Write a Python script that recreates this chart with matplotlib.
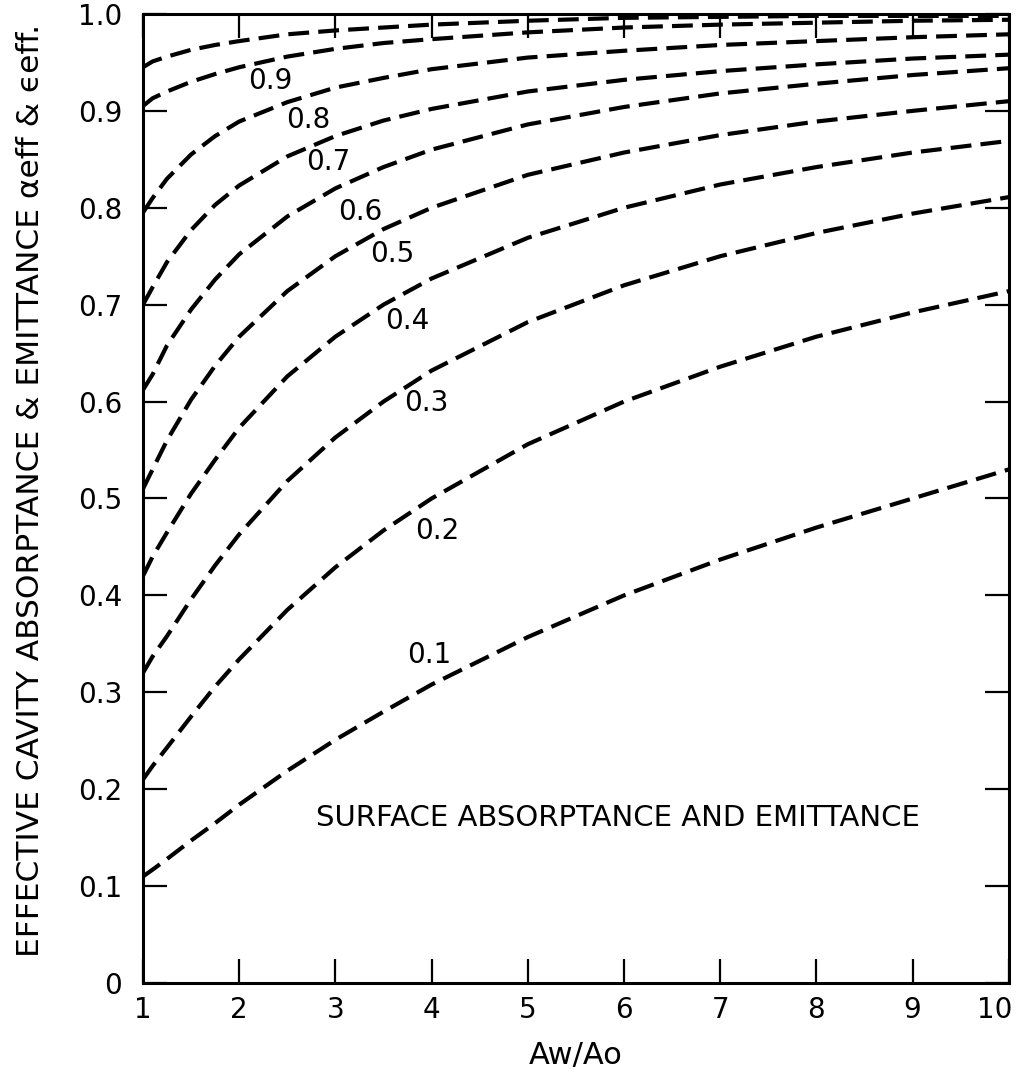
import numpy as np
import matplotlib
matplotlib.use('Agg')
import matplotlib.pyplot as plt
import matplotlib.transforms as mtransforms

plt.rcParams['font.family'] = 'DejaVu Sans'

# values (Aw/Ao on x, effective absorptance on y)
area_ratio = [1, 1.1, 1.25, 1.5, 1.75, 2, 2.5, 3, 3.5, 4, 5, 6, 7, 8, 9, 10]
a95 = [0.945, 0.951, 0.956, 0.963, 0.968, 0.972, 0.979, 0.983, 0.986, 0.989, 0.993, 0.996, 0.997, 0.998, 0.998, 0.998]
a90 = [0.905, 0.913, 0.920, 0.930, 0.938, 0.945, 0.956, 0.964, 0.970, 0.974, 0.981, 0.986, 0.989, 0.991, 0.993, 0.994]
a80 = [0.795, 0.810, 0.830, 0.855, 0.874, 0.889, 0.909, 0.924, 0.934, 0.943, 0.955, 0.962, 0.968, 0.972, 0.976, 0.979]
a70 = [0.700, 0.718, 0.744, 0.777, 0.803, 0.823, 0.853, 0.874, 0.890, 0.902, 0.920, 0.932, 0.941, 0.948, 0.954, 0.958]
a60 = [0.612, 0.628, 0.658, 0.695, 0.726, 0.752, 0.791, 0.820, 0.842, 0.860, 0.886, 0.904, 0.918, 0.928, 0.937, 0.944]
a50 = [0.510, 0.530, 0.560, 0.602, 0.637, 0.667, 0.714, 0.750, 0.778, 0.800, 0.834, 0.857, 0.875, 0.889, 0.900, 0.910]
a40 = [0.420, 0.440, 0.465, 0.505, 0.540, 0.573, 0.626, 0.667, 0.700, 0.727, 0.769, 0.800, 0.824, 0.842, 0.857, 0.869]
a30 = [0.320, 0.337, 0.358, 0.396, 0.431, 0.463, 0.518, 0.563, 0.600, 0.632, 0.682, 0.720, 0.750, 0.774, 0.794, 0.811]
a20 = [0.210, 0.224, 0.243, 0.275, 0.306, 0.334, 0.385, 0.429, 0.467, 0.500, 0.556, 0.600, 0.636, 0.667, 0.692, 0.714]
a10 = [0.110, 0.117, 0.128, 0.147, 0.165, 0.184, 0.219, 0.251, 0.280, 0.308, 0.357, 0.400, 0.437, 0.470, 0.500, 0.530]
curves = [a95, a90, a80, a70, a60, a50, a40, a30, a20, a10]

# curve labels and where they sit
curve_labels = ['0.9', '0.8', '0.7', '0.6', '0.5', '0.4', '0.3', '0.2', '0.1']
label_x = [2.32, 2.72, 2.93, 3.26, 3.59, 3.75, 3.95, 4.06, 3.98]
label_y = [0.931, 0.891, 0.847, 0.796, 0.752, 0.683, 0.599, 0.466, 0.339]

xticks = [1, 2, 3, 4, 5, 6, 7, 8, 9, 10]
yticks = [0, 0.1, 0.2, 0.3, 0.4, 0.5, 0.6, 0.7, 0.8, 0.9, 1.0]
ytick_labels = ['0', '0.1', '0.2', '0.3', '0.4', '0.5', '0.6', '0.7', '0.8', '0.9', '1.0']

fig = plt.figure(figsize=(10.19, 10.74), dpi=100)
ax = fig.add_axes([0.1403, 0.0847, 0.8497, 0.9023])

for c in curves:
    ax.plot(area_ratio, c, color='k', lw=3.0, dashes=(5, 2.2), solid_capstyle='butt')

for t, x, y in zip(curve_labels, label_x, label_y):
    ax.text(x, y, t, fontsize=20, ha='center', va='center')

ax.text(5.94, 0.170, 'SURFACE ABSORPTANCE AND EMITTANCE', fontsize=21,
        ha='center', va='center')

ax.set_xlim(1, 10)
ax.set_ylim(0, 1.0)
ax.set_xticks(xticks)
ax.set_xticklabels([str(v) for v in xticks])
ax.set_yticks(yticks)
ax.set_yticklabels(ytick_labels)

for sp in ax.spines.values():
    sp.set_linewidth(2.2)

ax.tick_params(which='both', bottom=True, top=True, left=True, right=True,
               direction='in', length=17, width=1.6, labelsize=20)
ax.tick_params(axis='y', pad=15)
ax.tick_params(axis='x', pad=9)

# last x label sits inside the figure edge as in the original
lab10 = ax.get_xticklabels()[-1]
lab10.set_horizontalalignment('right')
lab10.set_transform(lab10.get_transform() + mtransforms.ScaledTranslation(4 / 100, 0, fig.dpi_scale_trans))

ax.set_xlabel('Aw/Ao', fontsize=22)
ax.xaxis.set_label_coords(0.5, -0.06)
fig.text(31 / 1019, 1 - 490 / 1074,
         'EFFECTIVE CAVITY ABSORPTANCE & EMITTANCE \u03b1eff & \u03f5eff.',
         rotation=90, fontsize=22.5, ha='center', va='center')

fig.savefig('out.png', dpi=100)
